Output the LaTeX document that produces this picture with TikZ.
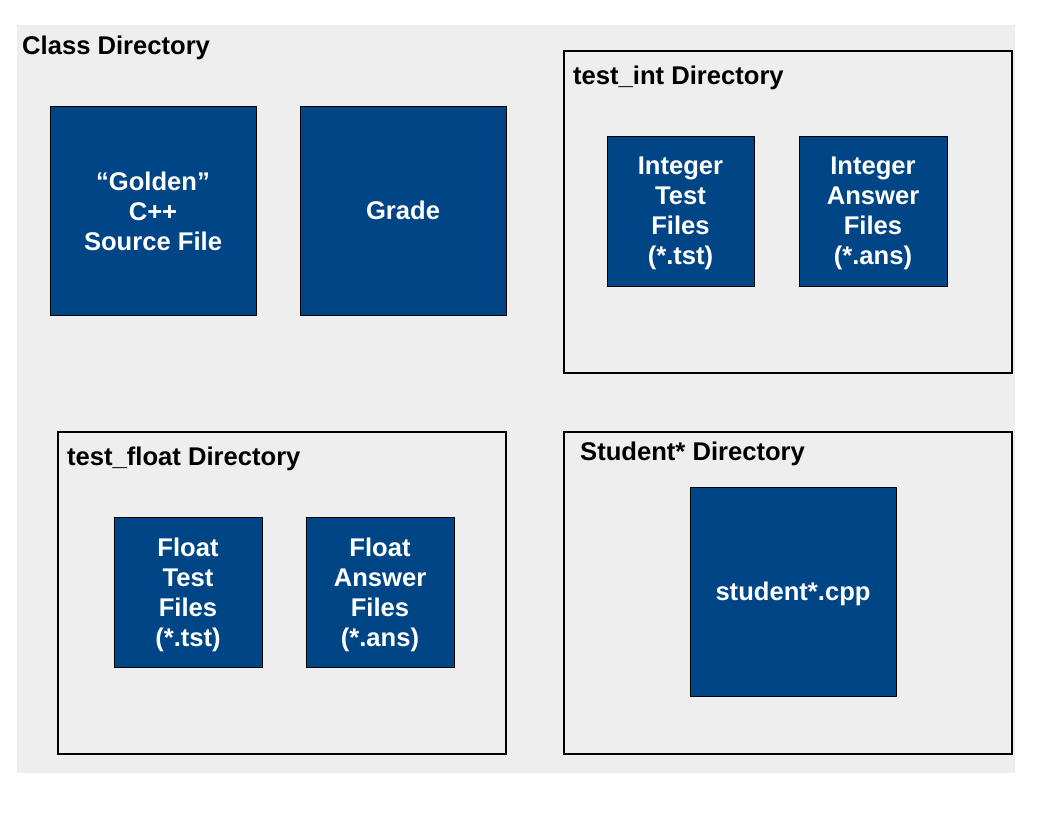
\documentclass[tikz,border=0pt]{standalone}
\usepackage{fontspec}
\setmainfont{Liberation Sans}
\definecolor{fileblue}{HTML}{004586}
\definecolor{classgrey}{HTML}{EEEEEE}

\begin{document}
\begin{tikzpicture}[x=1pt, y=-1pt,
    dirbox/.style={draw, line width=2pt, rectangle, anchor=north west, inner sep=0pt},
    dirlabel/.style={anchor=base west, inner sep=0pt, font=\fontsize{25.6}{30}\selectfont\bfseries},
    fileblock/.style={draw, line width=1pt, rectangle, fill=fileblue, text=white, align=center,
        inner sep=0pt, text depth=0pt, font=\fontsize{25.6}{30}\selectfont\bfseries}]
    \useasboundingbox (0,0) rectangle (1056,816);

    % Class directory background
    \fill[classgrey] (17,25) rectangle (1015,773);
    \node[dirlabel] (classlbl) at (22,55) {Class Directory};

    % Files in the class directory
    \node[fileblock, minimum width=206pt, minimum height=209pt] (golden) at (153,211) {“Golden”\\C++\\Source File};
    \node[fileblock, minimum width=206pt, minimum height=209pt] (grade) at (403,210.5) {Grade};

    % test_int directory
    \node[dirbox, minimum width=448pt, minimum height=322pt] (intdir) at (563,50) {};
    \node[dirlabel] (intlbl) at (573,84) {test\_int Directory};
    \node[fileblock, minimum width=147pt, minimum height=150pt] (inttst) at (680.5,211) {Integer\\Test\\Files\\(*.tst)};
    \node[fileblock, minimum width=148pt, minimum height=150pt] (intans) at (873,211) {Integer\\Answer\\Files\\(*.ans)};

    % test_float directory
    \node[dirbox, minimum width=448pt, minimum height=322pt] (floatdir) at (57,431) {};
    \node[dirlabel] (floatlbl) at (67,465) {test\_float Directory};
    \node[fileblock, minimum width=148pt, minimum height=150pt] (floattst) at (188,592) {Float\\Test\\Files\\(*.tst)};
    \node[fileblock, minimum width=148pt, minimum height=150pt] (floatans) at (380,592) {Float\\Answer\\Files\\(*.ans)};

    % Student* directory
    \node[dirbox, minimum width=448pt, minimum height=322pt] (studdir) at (563,431) {};
    \node[dirlabel] (studlbl) at (580,460) {Student* Directory};
    \node[fileblock, minimum width=206pt, minimum height=209pt] (studcpp) at (793,591.5) {student*.cpp};

\end{tikzpicture}
\end{document}
